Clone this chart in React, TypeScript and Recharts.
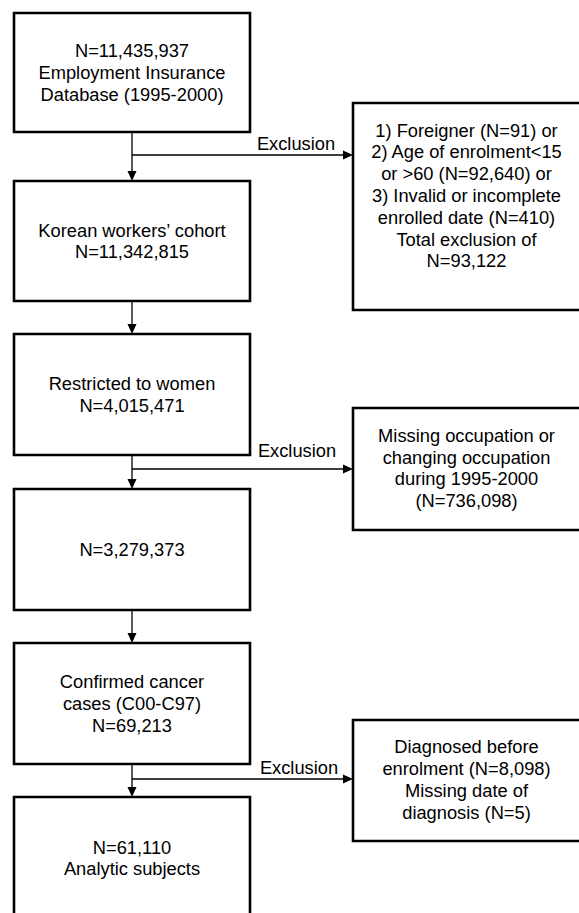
import React from "react";
import { ComposedChart, XAxis, YAxis, ReferenceArea, ReferenceLine, ReferenceDot } from "recharts";

const W = 579;
const H = 913;
const FONT = "'Liberation Sans', Arial, sans-serif";
const FS = 18.3;
const LH = 21.8;

// main steps, top to bottom
const stepLabels = [
  ["N=11,435,937", "Employment Insurance", "Database (1995-2000)"],
  ["Korean workers\u2019 cohort", "N=11,342,815"],
  ["Restricted to women", "N=4,015,471"],
  ["N=3,279,373"],
  ["Confirmed cancer", "cases (C00-C97)", "N=69,213"],
  ["N=61,110", "Analytic subjects"],
];

// exclusion boxes
const exclusionLabels = [
  [
    "1) Foreigner (N=91) or",
    "2) Age of enrolment<15",
    "or >60 (N=92,640) or",
    "3) Invalid or incomplete",
    "enrolled date (N=410)",
    "Total exclusion of",
    "N=93,122",
  ],
  ["Missing occupation or", "changing occupation", "during 1995-2000", "(N=736,098)"],
  ["Diagnosed before", "enrolment (N=8,098)", "Missing date of", "diagnosis (N=5)"],
];

const exclusionTag = "Exclusion";

// layout
const stepX: [number, number] = [14, 250];
const stepY = [
  [13, 132],
  [181, 301],
  [334, 455],
  [489, 610],
  [643, 764],
  [797, 919],
];
const sideX: [number, number] = [353, 582];
const sideY = [
  [103, 310],
  [408, 530],
  [720, 841],
];
const sideTextShift = [-11, -1, -1];
const branchY = [155, 469, 779];
const tagPos = [
  [296, -12],
  [297, -19],
  [299, -12],
];
const stemX = (stepX[0] + stepX[1]) / 2;

const boxLabel = (lines: string[], dy = 0, cxFix?: number) => (props: any) => {
  const { x, y, width, height } = props.viewBox;
  const cx = cxFix ?? x + width / 2;
  const cy = y + height / 2 + dy;
  return (
    <text textAnchor="middle" fontFamily={FONT} fontSize={FS} fill="#000">
      {lines.map((l, i) => (
        <tspan key={i} x={cx} y={cy + (i - (lines.length - 1) / 2) * LH} dominantBaseline="central">
          {l}
        </tspan>
      ))}
    </text>
  );
};

const arrowDown = (p: any) => (
  <polygon points={`${p.cx},${p.cy} ${p.cx - 4.5},${p.cy - 10} ${p.cx + 4.5},${p.cy - 10}`} fill="#000" />
);
const arrowRight = (p: any) => (
  <polygon points={`${p.cx},${p.cy} ${p.cx - 10},${p.cy - 4.5} ${p.cx - 10},${p.cy + 4.5}`} fill="#000" />
);

export default function App() {
  return (
    <div style={{ position: "absolute", left: 0, top: 0, background: "#fff" }}>
      <ComposedChart width={W} height={H} margin={{ top: 0, right: 0, bottom: 0, left: 0 }}>
        <XAxis type="number" dataKey="x" domain={[0, W]} hide allowDataOverflow />
        <YAxis type="number" dataKey="y" domain={[0, H]} reversed hide allowDataOverflow />

        {stepY.slice(0, -1).map(([, b], i) => (
          <ReferenceLine
            key={`stem${i}`}
            segment={[{ x: stemX, y: b }, { x: stemX, y: stepY[i + 1][0] - 6 }]}
            stroke="#000"
            strokeWidth={1.3}
            ifOverflow="visible"
          />
        ))}
        {stepY.slice(1).map(([t], i) => (
          <ReferenceDot key={`ad${i}`} x={stemX} y={t} ifOverflow="visible" shape={arrowDown} />
        ))}

        {branchY.map((by, i) => (
          <ReferenceLine
            key={`br${i}`}
            segment={[{ x: stemX, y: by }, { x: sideX[0] - 6, y: by }]}
            stroke="#000"
            strokeWidth={1.3}
            ifOverflow="visible"
          />
        ))}
        {branchY.map((by, i) => (
          <ReferenceDot key={`ar${i}`} x={sideX[0]} y={by} ifOverflow="visible" shape={arrowRight} />
        ))}
        {branchY.map((by, i) => (
          <ReferenceDot
            key={`tag${i}`}
            x={tagPos[i][0]}
            y={by + tagPos[i][1]}
            ifOverflow="visible"
            shape={(p: any) => (
              <text x={p.cx} y={p.cy} textAnchor="middle" dominantBaseline="central" fontFamily={FONT} fontSize={FS} fill="#000">
                {exclusionTag}
              </text>
            )}
          />
        ))}

        {stepLabels.map((lines, i) => (
          <ReferenceArea
            key={`s${i}`}
            x1={stepX[0]}
            x2={stepX[1]}
            y1={stepY[i][0]}
            y2={stepY[i][1]}
            fill="#fff"
            fillOpacity={1}
            stroke="#000"
            strokeWidth={2.6}
            ifOverflow="visible"
            label={boxLabel(lines)}
          />
        ))}
        {exclusionLabels.map((lines, i) => (
          <ReferenceArea
            key={`e${i}`}
            x1={sideX[0]}
            x2={sideX[1]}
            y1={sideY[i][0]}
            y2={sideY[i][1]}
            fill="#fff"
            fillOpacity={1}
            stroke="#000"
            strokeWidth={2.6}
            ifOverflow="visible"
            label={boxLabel(lines, sideTextShift[i], (sideX[0] + 580) / 2)}
          />
        ))}
      </ComposedChart>
    </div>
  );
}
